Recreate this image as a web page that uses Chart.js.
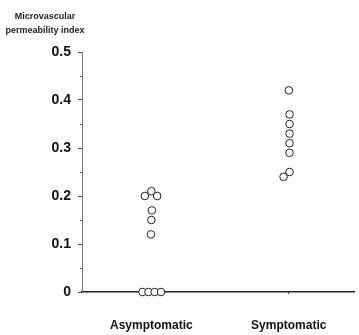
<!DOCTYPE html>
<html>
<head>
<meta charset="utf-8">
<script src="https://cdn.jsdelivr.net/npm/chart.js@4/dist/chart.umd.min.js"></script>
<style>
  html, body { margin: 0; padding: 0; background: #fff; overflow: hidden; }
  #wrap { width: 359px; height: 335px; position: relative; }
</style>
</head>
<body>
<div id="wrap"><canvas id="chart"></canvas></div>
<script>
// group names and where they sit on the x scale
const groups = ['Asymptomatic', 'Symptomatic'];
const groupPos = [0.51, 1.52];

// Asymptomatic patients: values and small horizontal shifts so circles don't hide each other
const asymValues = [0.20, 0.21, 0.20, 0.17, 0.15, 0.12, 0, 0, 0, 0];
const asymShift = [-0.048, 0, 0.043, 0.004, 0, -0.003, -0.065, -0.021, 0.024, 0.071];

// Symptomatic patients
const symValues = [0.42, 0.37, 0.35, 0.33, 0.31, 0.29, 0.25, 0.24];
const symShift = [0.001, 0.006, 0.006, 0.006, 0.006, 0.006, 0.006, -0.038];

const yTicks = [0, 0.1, 0.2, 0.3, 0.4, 0.5];
const yMinorTicks = [0.05, 0.15, 0.25, 0.35, 0.45];

const titleLines = ['Microvascular', 'permeability index'];

const FONT = "'Liberation Sans', Arial, sans-serif";

const toPoints = (vals, shift, pos) => vals.map((v, i) => ({ x: pos + shift[i], y: v }));

// draws the two-line axis title and the small minor ticks on the y axis
const extras = {
  id: 'extras',
  afterDraw(chart) {
    const ctx = chart.ctx;
    const y = chart.scales.y;
    ctx.save();
    ctx.strokeStyle = '#666';
    ctx.lineWidth = 1;
    yMinorTicks.forEach(v => {
      const py = Math.round(y.getPixelForValue(v)) + 0.5;
      ctx.beginPath();
      ctx.moveTo(y.right - 2, py);
      ctx.lineTo(y.right, py);
      ctx.stroke();
    });
    ctx.fillStyle = '#222';
    ctx.font = 'bold 9px ' + FONT;
    ctx.textAlign = 'center';
    ctx.textBaseline = 'middle';
    ctx.fillText(titleLines[0], 45, 17);
    ctx.fillText(titleLines[1], 45, 31);
    ctx.restore();
  }
};

new Chart(document.getElementById('chart').getContext('2d'), {
  type: 'scatter',
  data: {
    datasets: [
      {
        label: groups[0],
        data: toPoints(asymValues, asymShift, groupPos[0]),
        pointRadius: 3.8,
        pointBorderWidth: 1,
        pointBorderColor: '#222',
        pointBackgroundColor: '#fff',
        clip: false
      },
      {
        label: groups[1],
        data: toPoints(symValues, symShift, groupPos[1]),
        pointRadius: 3.8,
        pointBorderWidth: 1,
        pointBorderColor: '#222',
        pointBackgroundColor: '#fff',
        clip: false
      }
    ]
  },
  options: {
    responsive: true,
    maintainAspectRatio: false,
    animation: false,
    layout: { padding: { top: 52, right: 0, left: 0, bottom: 0 } },
    plugins: {
      legend: { display: false },
      tooltip: { enabled: false }
    },
    scales: {
      x: {
        type: 'linear',
        min: 0,
        max: 2,
        afterBuildTicks: scale => { scale.ticks = groupPos.map(v => ({ value: v })); },
        afterFit: scale => {
          scale.height = 43;
          scale.paddingLeft = 0;
          scale.paddingRight = 0;
        },
        ticks: {
          callback: (v, i) => groups[i],
          color: '#111',
          font: { family: FONT, size: 12, weight: 'bold' },
          padding: 24,
          maxRotation: 0
        },
        grid: { drawOnChartArea: false, drawTicks: true, tickLength: 2, tickColor: '#333' },
        border: { display: true, color: '#222', width: 1.5 }
      },
      y: {
        min: 0,
        max: 0.5,
        afterBuildTicks: scale => { scale.ticks = yTicks.map(v => ({ value: v })); },
        afterFit: scale => { scale.width = 82; },
        ticks: {
          callback: v => (v === 0 ? '0' : v.toFixed(1)),
          color: '#111',
          font: { family: FONT, size: 14, weight: 'bold' },
          padding: 7
        },
        grid: { drawOnChartArea: false, drawTicks: true, tickLength: 4, tickColor: '#555' },
        border: { display: true, color: '#777', width: 1 }
      }
    }
  },
  plugins: [extras]
});
</script>
</body>
</html>
